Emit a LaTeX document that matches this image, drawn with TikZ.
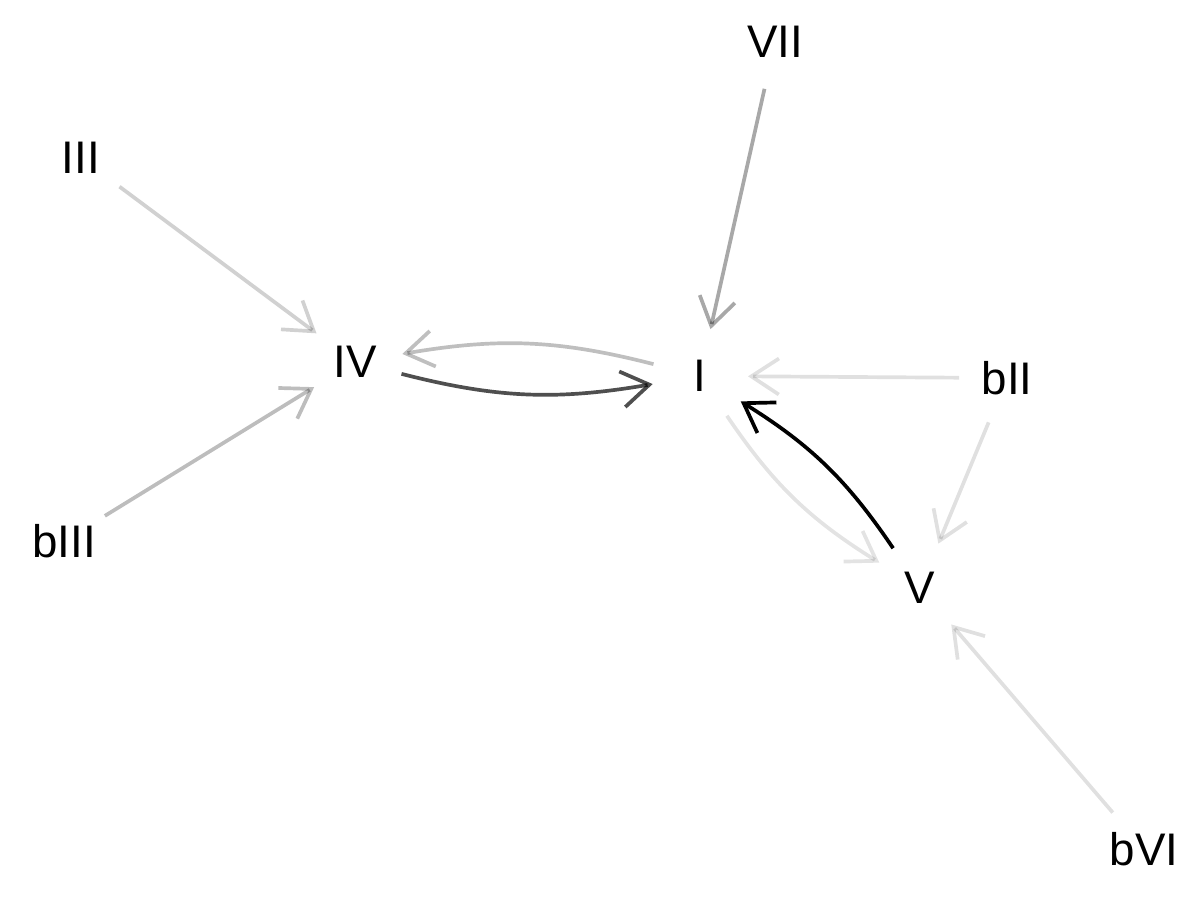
\documentclass[tikz,border=0pt]{standalone}
\usepackage{fontspec}
\setmainfont{Liberation Sans}
\usetikzlibrary{arrows.meta}
\begin{document}
\begin{tikzpicture}[
  chord/.style={circle, draw=none, minimum size=1.92cm, inner sep=0pt, outer sep=0pt,
    font=\fontsize{26}{30}\selectfont},
  link/.style={line width=2.1pt, draw=black, draw opacity=#1,
    -{Straight Barb[length=0.55cm, width=0.72cm, line cap=butt]}},
]
\useasboundingbox (0,0) rectangle (24,18);

% chord nodes
\node[chord] (VII)  at (15.50,17.16) {VII};
\node[chord] (III)  at (1.62,14.84)  {III};
\node[chord] (IV)   at (7.10,10.76)  {IV};
\node[chord] (I)    at (14.00,10.48) {I};
\node[chord] (bII)  at (20.14,10.44) {bII};
\node[chord] (bIII) at (1.28,7.18)   {bIII};
\node[chord] (V)    at (18.40,6.24)  {V};
\node[chord] (bVI)  at (22.88,1.02)  {bVI};

% transitions, shade = frequency
\draw[link=0.18] (III) -- (IV);
\draw[link=0.26] (bIII) -- (IV);
\draw[link=0.34] (VII) -- (I);
\draw[link=0.25] (I) to[bend right=12] (IV);
\draw[link=0.69] (IV) to[bend right=12] (I);
\draw[link=0.12] (bII) -- (I);
\draw[link=0.12] (bII) -- (V);
\draw[link=0.11] (I) to[bend right=12] (V);
\draw[link=1.00] (V) to[bend right=12] (I);
\draw[link=0.12] (bVI) -- (V);
\end{tikzpicture}
\end{document}
